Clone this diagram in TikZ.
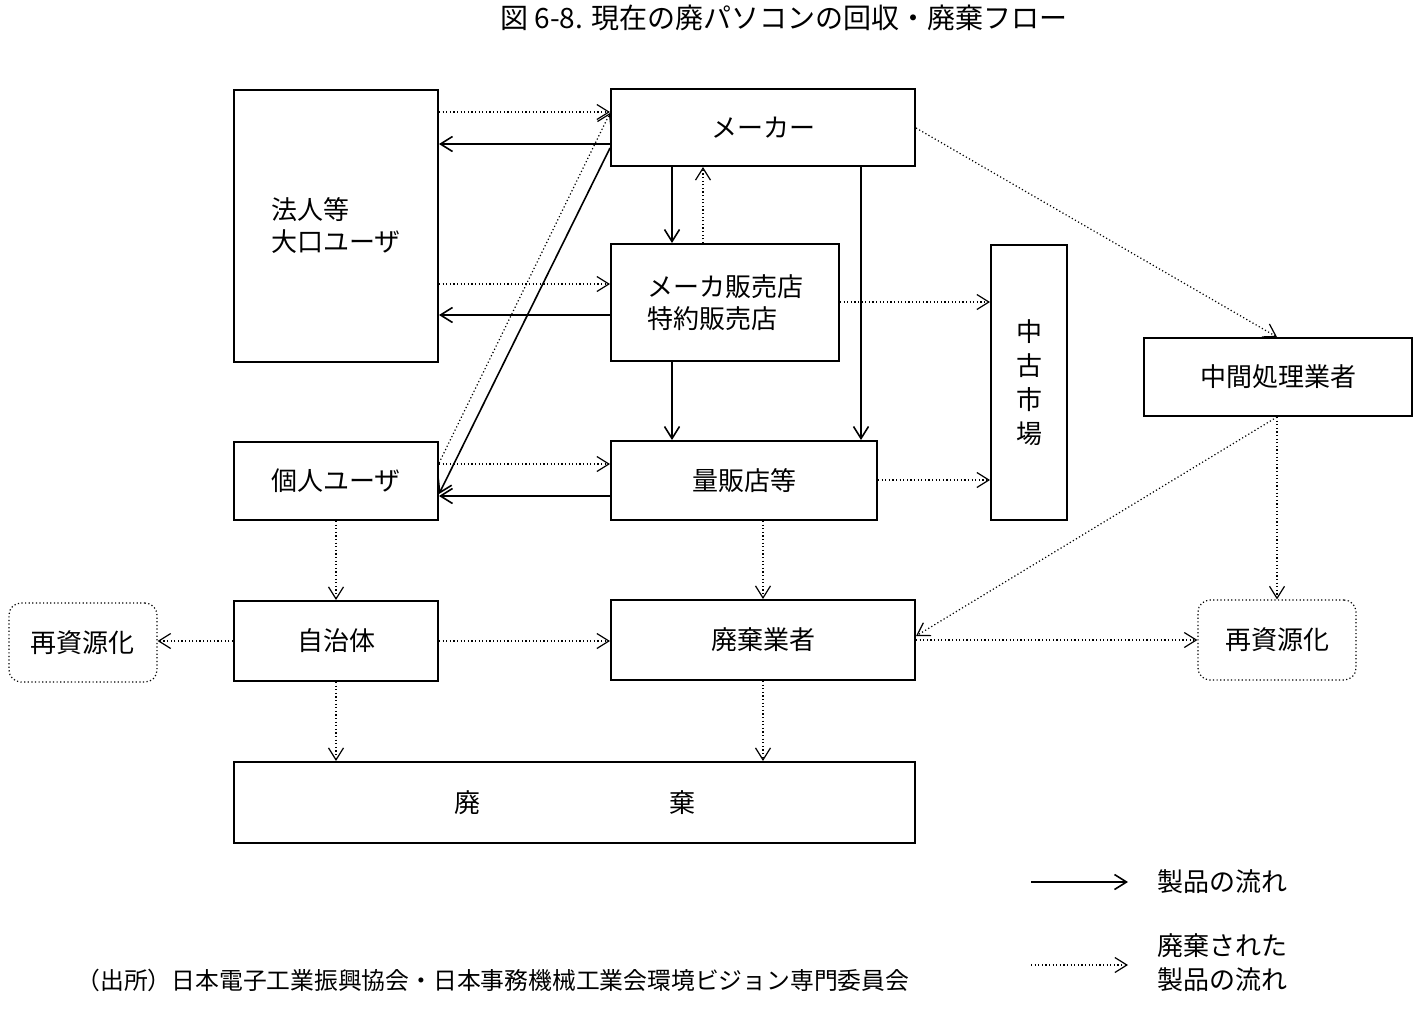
\documentclass[tikz,border=0pt]{standalone}
\usepackage{fontspec}
\newfontfamily\jp{Noto Sans CJK JP}
\usetikzlibrary{arrows.meta}
\begin{document}
\begin{tikzpicture}[x=0.5pt,y=-0.5pt,
  box/.style={draw, line width=1pt, inner sep=0pt, align=center, font=\jp\fontsize{13pt}{16pt}\selectfont},
  rbox/.style={box, rounded corners=6pt, line width=0.6pt, dash pattern=on 0.6pt off 1.2pt},
  sarr/.style={line width=0.8pt, -{Straight Barb[length=6pt,width=7.5pt]}},
  darr/.style={line width=0.6pt, dash pattern=on 0.6pt off 1.2pt, -{Straight Barb[length=6pt,width=7.5pt]}},
  lbl/.style={font=\jp\fontsize{13pt}{17pt}\selectfont, inner sep=0pt, align=left}]
\useasboundingbox (0,0) rectangle (1425,1030);

% title
\node[font=\jp\fontsize{14pt}{16pt}\selectfont, inner sep=0pt] (title) at (784,18) {図 6-8. 現在の廃パソコンの回収・廃棄フロー};

% boxes
\node[box, align=left, minimum width=102pt, minimum height=136pt] (hojin) at (336,226) {法人等\\大口ユーザ};
\node[box, minimum width=152pt, minimum height=38.5pt] (maker) at (763,127.5) {メーカー};
\node[box, align=left, minimum width=114pt, minimum height=58.5pt] (hanbai) at (725,302.5) {メーカ販売店\\特約販売店};
\node[box, font=\jp\fontsize{13pt}{17pt}\selectfont, minimum width=38pt, minimum height=137.5pt] (chuko) at (1029,382.5) {中\\古\\市\\場};
\node[box, minimum width=134pt, minimum height=39pt] (chukan) at (1278,377) {中間処理業者};
\node[box, minimum width=102pt, minimum height=39pt] (kojin) at (336,481) {個人ユーザ};
\node[box, minimum width=133pt, minimum height=39.5pt] (ryohan) at (744,480.5) {量販店等};
\node[rbox, minimum width=74pt, minimum height=39.5pt] (saiL) at (83,642.5) {再資源化};
\node[box, minimum width=102pt, minimum height=40pt] (jichi) at (336,641) {自治体};
\node[box, minimum width=152pt, minimum height=40pt] (haigyo) at (763,640) {廃棄業者};
\node[rbox, minimum width=79pt, minimum height=40pt] (saiR) at (1277,640) {再資源化};
\node[box, minimum width=340.5pt, minimum height=40.5pt] (haiki) at (574.5,802.5) {廃\hspace{94.5pt}棄};

% connectors
\draw[darr] (hojin.east |- 0,112) -- (maker.west |- 0,112);
\draw[sarr] (maker.west |- 0,144) -- (hojin.east |- 0,144);
\draw[darr] (hojin.east |- 0,284) -- (hanbai.west |- 0,284);
\draw[sarr] (hanbai.west |- 0,315) -- (hojin.east |- 0,315);
\draw[sarr] (maker.south -| 672,0) -- (hanbai.north -| 672,0);
\draw[darr] (hanbai.north -| 703,0) -- (maker.south -| 703,0);
\draw[sarr] (maker.south -| 861,0) -- (ryohan.north -| 861,0);
\draw[sarr] (hanbai.south -| 672,0) -- (ryohan.north -| 672,0);
\draw[darr] (hanbai.east |- 0,302) -- (chuko.west |- 0,302);
\draw[darr] (ryohan.east |- 0,480) -- (chuko.west |- 0,480);
\draw[darr] (maker.east |- 0,128) -- (chukan.north -| 1277,0);
\draw[darr] (kojin.east |- 0,463) -- (maker.west |- 0,113);
\draw[sarr] (maker.west |- 0,148) -- (kojin.east |- 0,494);
\draw[darr] (kojin.east |- 0,464) -- (ryohan.west |- 0,464);
\draw[sarr] (ryohan.west |- 0,496) -- (kojin.east |- 0,496);
\draw[darr] (kojin.south) -- (jichi.north);
\draw[darr] (jichi.west) -- (saiL.east |- jichi.west);
\draw[darr] (jichi.east) -- (haigyo.west |- jichi.east);
\draw[darr] (ryohan.south -| haigyo.north) -- (haigyo.north);
\draw[darr] (chukan.south -| 1277,0) -- (haigyo.east |- 0,636);
\draw[darr] (chukan.south -| saiR.north) -- (saiR.north);
\draw[darr] (haigyo.east) -- (saiR.west);
\draw[darr] (jichi.south) -- (haiki.north -| jichi.south);
\draw[darr] (haigyo.south) -- (haiki.north -| haigyo.south);

% legend
\coordinate (l1a) at (1031,882);
\coordinate (l1b) at (1128,882);
\coordinate (l2a) at (1031,965);
\coordinate (l2b) at (1128,965);
\draw[sarr] (l1a) -- (l1b);
\draw[darr] (l2a) -- (l2b);
\node[lbl, anchor=west] (leg1) at (1157,882) {製品の流れ};
\node[lbl, anchor=west] (leg2) at (1157,963) {廃棄された\\製品の流れ};

% source
\node[font=\jp\fontsize{11.9pt}{14pt}\selectfont, inner sep=0pt, anchor=west] (src) at (76,980) {（出所）日本電子工業振興協会・日本事務機械工業会環境ビジョン専門委員会};
\end{tikzpicture}
\end{document}
